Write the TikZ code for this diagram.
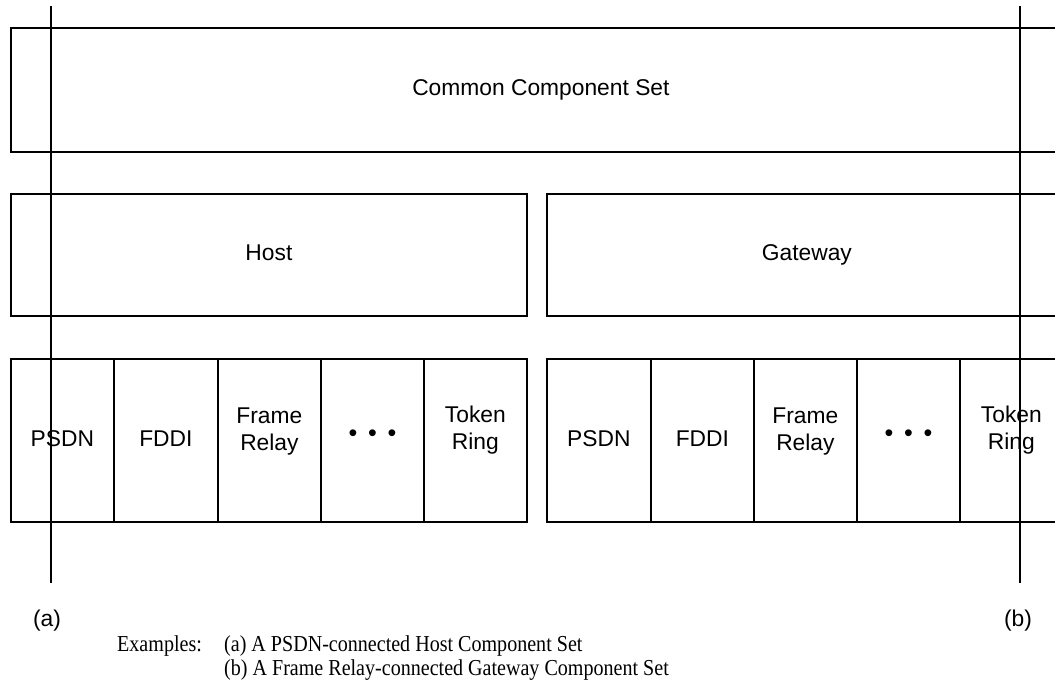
\documentclass[tikz,border=0pt]{standalone}
\usepackage{fontspec}
\setmainfont{Liberation Serif}
\setsansfont{Liberation Sans}
\newfontfamily\capfont[FakeStretch=0.88]{Liberation Serif}
\begin{document}
\begin{tikzpicture}[x=1pt, y=-1pt,
  boxfont/.style={font=\sffamily\fontsize{22.8}{27}\selectfont},
  frame/.style={draw, line width=1.8pt, inner sep=0pt, anchor=north west,
    boxfont, text height=16.4pt, text depth=4.8pt},
  cell/.style={frame, minimum width=#1, minimum height=163pt},
  cell/.default=103pt,
  rule/.style={line width=1.8pt},
  tag/.style={boxfont, inner sep=0pt},
  twoline/.style={boxfont, inner sep=0pt, align=center},
  dots/.style={font=\sffamily\fontsize{25}{25}\selectfont, inner sep=0pt, anchor=base},
  caption/.style={font=\capfont\fontsize{22.8}{24}\selectfont, inner sep=0pt, anchor=base west}]
\useasboundingbox (0,0) rectangle (1055,681);
\clip (0,0) rectangle (1055,681);

% shared layer and the two component sets
\node[frame, minimum width=1060pt, minimum height=124pt] (common) at (10,27) {Common Component Set};
\node[frame, minimum width=516pt, minimum height=122pt] (host) at (10,193) {Host};
\node[frame, minimum width=520pt, minimum height=122pt] (gateway) at (546,193) {Gateway};

% host network cells
\node[cell] (h1) at (10,358) {PSDN};
\node[cell=104pt] (h2) at (113,358) {FDDI};
\node[cell] (h3) at (217,358) {};
\node[cell] (h4) at (320,358) {};
\node[cell] (h5) at (423,358) {};
\node[twoline] (h3t) at ([yshift=9pt]h3.center) {Frame\\Relay};
\node[dots] (h4t) at (h4.center |- 0,441.5) {•\hspace{10.75pt}•\hspace{10.75pt}•};
\node[twoline] (h5t) at ([yshift=10pt]h5.center) {Token\\Ring};

% gateway network cells
\node[cell=104pt] (g1) at (546,358) {PSDN};
\node[cell] (g2) at (650,358) {FDDI};
\node[cell] (g3) at (753,358) {};
\node[cell] (g4) at (856,358) {};
\node[cell] (g5) at (959,358) {};
\node[twoline] (g3t) at ([yshift=9pt]g3.center) {Frame\\Relay};
\node[dots] (g4t) at (g4.center |- 0,441.5) {•\hspace{10.75pt}•\hspace{10.75pt}•};
\node[twoline] (g5t) at ([yshift=10pt]g5.center) {Token\\Ring};

% example cuts
\coordinate (atop) at (51,6);
\coordinate (abot) at (51,583);
\coordinate (btop) at (1020,6);
\coordinate (bbot) at (1020,583);
\draw[rule] (atop) -- (abot);
\draw[rule] (btop) -- (bbot);
\node[tag] (alabel) at (47,621) {(a)};
\node[tag] (blabel) at (1018,621) {(b)};

% caption
\node[caption] (ex) at (117,651) {Examples:};
\node[caption] (exa) at (224,651) {(a) A PSDN-connected Host Component Set};
\node[caption] (exb) at (224,675) {(b) A Frame Relay-connected Gateway Component Set};
\end{tikzpicture}
\end{document}
